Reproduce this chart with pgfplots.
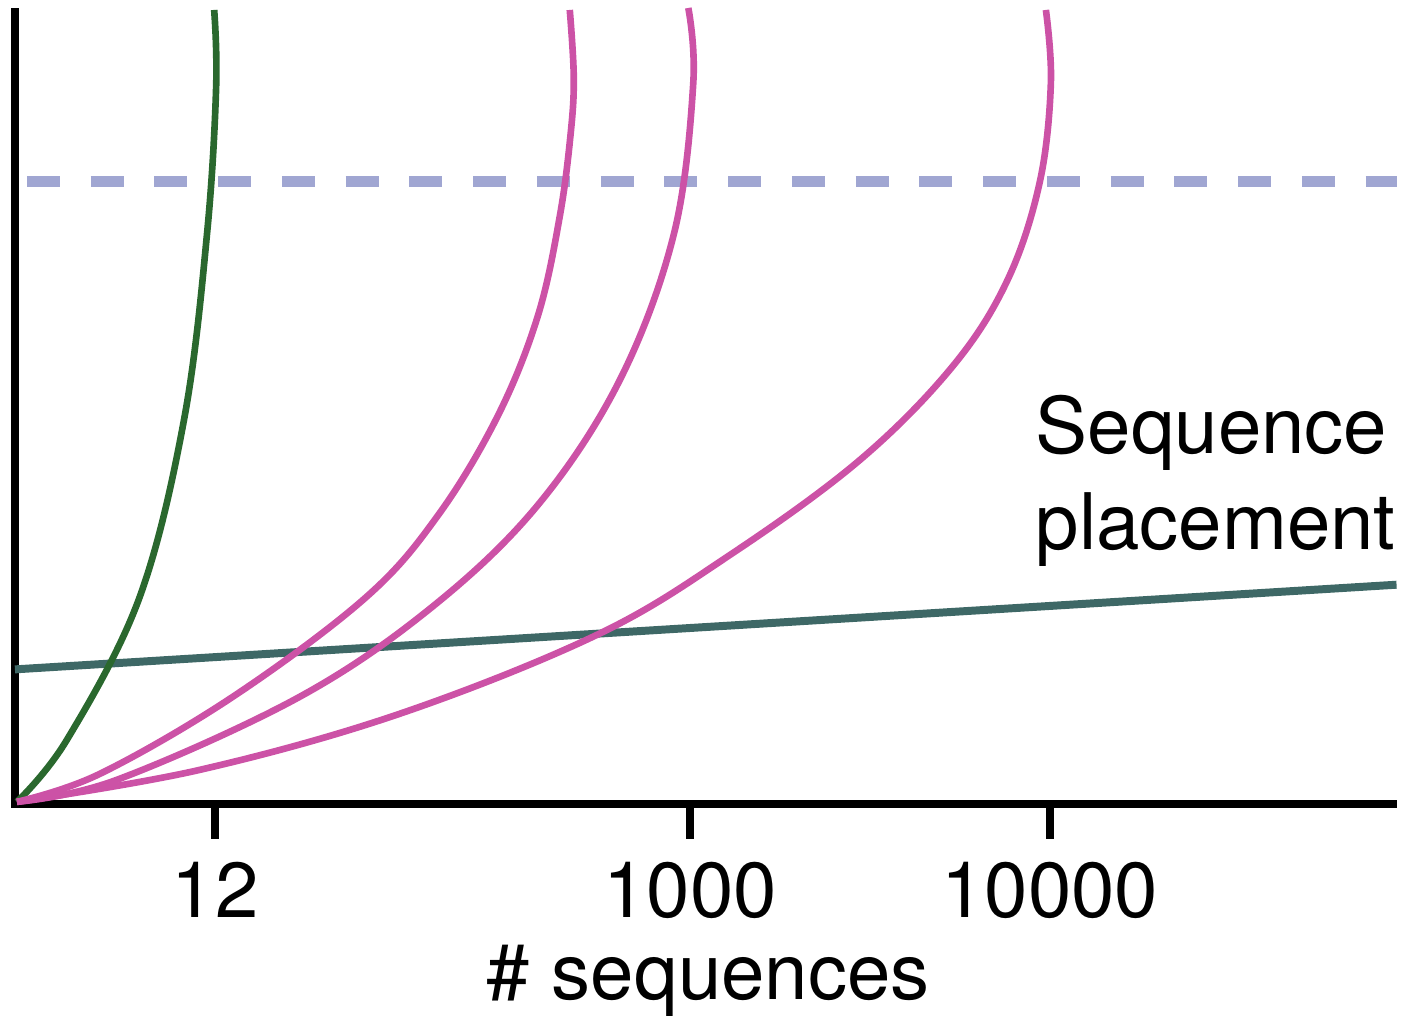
\documentclass[border=0pt]{standalone}
\usepackage{pgfplots}
\pgfplotsset{compat=1.18}
\usepackage{fontspec}
\setmainfont{TeX Gyre Heros}
\definecolor{cgreen}{RGB}{42,104,46}
\definecolor{cpink}{RGB}{204,82,166}
\definecolor{cteal}{RGB}{62,104,102}
\definecolor{cdash}{RGB}{160,166,210}
\begin{document}
\begin{tikzpicture}
\begin{axis}[
  scale only axis,
  width=414.9pt, height=238.5pt,
  xmin=15, xmax=1398, ymin=0, ymax=795,
  axis lines=left,
  axis line style={-, line width=2.4pt, line cap=rect, black},
  clip=false,
  xtick={216,693,1054},
  xticklabels={12,1000,10000},
  ytick=\empty,
  tick align=outside,
  major tick length=10.5pt,
  xtick style={line width=2.4pt, black},
  ticklabel style={font=\fontsize{23.5}{28}\selectfont},
  xticklabel style={yshift=-3.6pt},
]
\path (axis cs:0,-212) rectangle (axis cs:1402,807);
% dashed threshold
\addplot[cdash, line width=3.3pt, dash pattern=on 9.9pt off 9.3pt] coordinates {(27,625) (1402,625)};
% sequence placement (teal)
\addplot[cteal, line width=2.4pt] coordinates {(15,135) (1402,220)};
% green curve
\addplot[cgreen, line width=2pt, smooth, tension=0.6] coordinates {
(17,2) (67,64) (140,207) (185,387) (208,574) (217,720) (215,797)};
% pink curve 1
\addplot[cpink, line width=2pt, smooth, tension=0.6] coordinates {
(17,2) (100,30) (233,107) (367,207) (440,290) (500,390) (540,490) (562,590) (573,674) (576,730) (572,797)};
% pink curve 2
\addplot[cpink, line width=2pt, smooth, tension=0.6] coordinates {
(17,2) (117,24) (300,107) (433,197) (540,300) (623,427) (677,574) (696,724) (691,799)};
% pink curve 3
\addplot[cpink, line width=2pt, smooth, tension=0.6] coordinates {
(17,2) (200,34) (400,90) (600,170) (733,250) (863,345) (957,440) (1012,527) (1044,625) (1055,724) (1050,797)};
\node[anchor=base west, inner sep=0pt, font=\fontsize{23.5}{28}\selectfont] at (axis cs:1039,352) {Sequence};
\node[anchor=base west, inner sep=0pt, font=\fontsize{23.5}{28}\selectfont] at (axis cs:1039,255) {placement};
\node[anchor=base, inner sep=0pt, font=\fontsize{23.5}{28}\selectfont] at (axis cs:711,-196) {\# sequences};
\end{axis}
\end{tikzpicture}
\end{document}
